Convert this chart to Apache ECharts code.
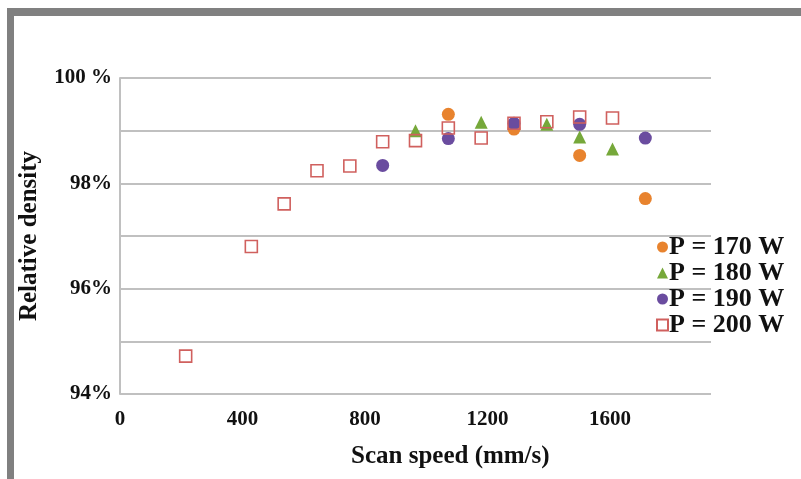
<!DOCTYPE html>
<html>
<head>
<meta charset="utf-8">
<script src="https://cdn.jsdelivr.net/npm/echarts@6/dist/echarts.min.js"></script>
<style>
html,body{margin:0;padding:0;background:#fff;}
#chart{width:801px;height:479px;}
</style>
</head>
<body>
<div id="chart"></div>
<script>
// Data (scan speed mm/s, relative density %)
const p170 = [[1000, 99.31], [1200, 99.03], [1400, 98.53], [1600, 97.71]];
const p180 = [[900, 99.0], [1100, 99.16], [1300, 99.12], [1400, 98.88], [1500, 98.65]];
const p190 = [[800, 98.34], [1000, 98.85], [1200, 99.14], [1400, 99.12], [1600, 98.86]];
const p200 = [[200, 94.72], [400, 96.80], [500, 97.61], [600, 98.24], [700, 98.33], [800, 98.79],
              [900, 98.81], [1000, 99.05], [1100, 98.86], [1200, 99.14], [1300, 99.17], [1400, 99.26], [1500, 99.24]];
const seriesNames = ['P = 170 W', 'P = 180 W', 'P = 190 W', 'P = 200 W'];
const xTickLabels = ['0', '400', '800', '1200', '1600'];

const serif = 'Liberation Serif';
const chart = echarts.init(document.getElementById('chart'));
chart.setOption({
  backgroundColor: '#fff',
  animation: false,
  title: {
    text: 'Scan speed (mm/s)',
    left: 346, top: 439,
    textStyle: {fontFamily: serif, fontWeight: 'bold', fontSize: 25, color: '#111'}
  },
  graphic: [
    {type: 'rect', shape: {x: 7, y: 8, width: 794, height: 8}, style: {fill: '#808080'}},
    {type: 'rect', shape: {x: 7, y: 8, width: 7, height: 471}, style: {fill: '#808080'}}
  ],
  grid: {left: 120, right: 90, top: 78, bottom: 85},
  legend: {
    orient: 'vertical',
    left: 651, top: 229,
    itemGap: 0,
    itemWidth: 11, itemHeight: 11,
    textStyle: {fontFamily: serif, fontWeight: 'bold', fontSize: 26, color: '#111', padding: [0, 0, 0, -4]},
    data: seriesNames
  },
  xAxis: [
    {
      type: 'value', min: 0, max: 1800, interval: 200,
      axisLine: {show: false}, axisTick: {show: false},
      axisLabel: {show: false}, splitLine: {show: false}
    },
    {
      type: 'value', min: 0, max: 1930, interval: 400, position: 'bottom',
      axisLine: {show: false}, axisTick: {show: false}, splitLine: {show: false},
      axisLabel: {
        showMaxLabel: false, margin: 15,
        fontFamily: serif, fontWeight: 'bold', fontSize: 21, color: '#111',
        formatter: function (v) { const i = Math.round(v / 400); return xTickLabels[i] !== undefined ? xTickLabels[i] : ''; }
      }
    }
  ],
  yAxis: {
    type: 'value', min: 94, max: 100, interval: 1,
    name: 'Relative density', nameLocation: 'middle', nameGap: 78,
    nameTextStyle: {fontFamily: serif, fontWeight: 'bold', fontSize: 25, color: '#111'},
    axisLine: {show: true, lineStyle: {color: '#c0c0c0', width: 2}},
    axisTick: {show: false},
    splitLine: {lineStyle: {color: '#c0c0c0', width: 2}},
    axisLabel: {
      margin: 8,
      fontFamily: serif, fontWeight: 'bold', fontSize: 21, color: '#111',
      formatter: function (v) {
        if (Math.round(v) % 2 !== 0) return '';
        return v === 100 ? '100 %' : v + '%';
      }
    }
  },
  series: [
    {name: seriesNames[0], type: 'scatter', data: p170, symbol: 'circle', symbolSize: 13,
     itemStyle: {color: '#E8832E', opacity: 1}},
    {name: seriesNames[1], type: 'scatter', data: p180, symbol: 'triangle', symbolSize: 13,
     itemStyle: {color: '#76A83A', opacity: 1}},
    {name: seriesNames[2], type: 'scatter', data: p190, symbol: 'circle', symbolSize: 13,
     itemStyle: {color: '#6A4C9F', opacity: 1}},
    {name: seriesNames[3], type: 'scatter', data: p200, symbol: 'rect', symbolSize: 12,
     itemStyle: {color: 'rgba(255,255,255,0)', borderColor: '#D0605E', borderWidth: 1.6, opacity: 1}}
  ]
});
</script>
</body>
</html>
